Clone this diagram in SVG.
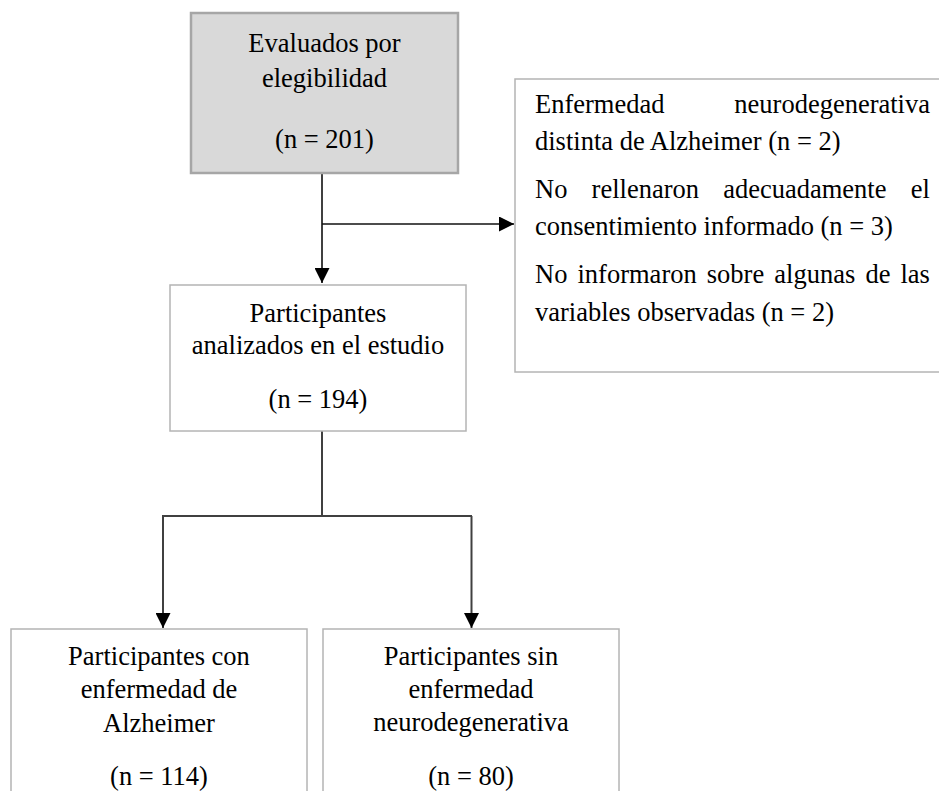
<svg xmlns="http://www.w3.org/2000/svg" width="939" height="791" viewBox="0 0 939 791">
<defs>
<style>
.box{fill:#ffffff;stroke:#b4b4b4;stroke-width:1.5}
.grey{fill:#d9d9d9;stroke:#a6a6a6;stroke-width:2.5}
.t{font-family:"Liberation Serif","Times New Roman",serif;font-size:26.5px;fill:#000}
.c{text-anchor:middle}
.e{text-anchor:end}
.ln{fill:none;stroke:#404040;stroke-width:2}
</style>
<marker id="ah" markerUnits="userSpaceOnUse" markerWidth="15" markerHeight="15" refX="15" refY="7.5" orient="auto" viewBox="0 0 15 15">
<path d="M0,0 L15,7.5 L0,15 z" fill="#000"/>
</marker>
</defs>
<rect width="939" height="791" fill="#fff"/>
<g id="connectors">
<path class="ln" d="M322,173 V283" marker-end="url(#ah)"/>
<path class="ln" d="M322,224 H514" stroke="#111" style="stroke:#111;stroke-width:1.6" marker-end="url(#ah)"/>
<path class="ln" d="M322,431 V516"/>
<path class="ln" d="M162,516 H472"/>
<path class="ln" d="M163,516 V628" marker-end="url(#ah)"/>
<path class="ln" d="M471.5,516 V628" marker-end="url(#ah)"/>
</g>
<g id="n-evaluados">
<rect class="grey" x="191" y="13" width="267" height="160"/>
<text class="t c" x="324.5" y="52">Evaluados por</text>
<text class="t c" x="324.5" y="87">elegibilidad</text>
<text class="t c" x="324.5" y="148">(n = 201)</text>
</g>
<g id="n-excluidos">
<rect class="box" x="515" y="79" width="440" height="293"/>
<text class="t" x="535" y="113">Enfermedad</text>
<text class="t e" x="930" y="113">neurodegenerativa</text>
<text class="t" x="535" y="150">distinta de Alzheimer (n = 2)</text>
<text class="t" y="198"><tspan x="535">No</tspan><tspan x="591.6">rellenaron</tspan><tspan x="723.2">adecuadamente</tspan><tspan x="910.7">el</tspan></text>
<text class="t" x="535" y="235">consentimiento informado (n = 3)</text>
<text class="t" y="283"><tspan x="535">No</tspan><tspan x="577.5">informaron</tspan><tspan x="706.8">sobre</tspan><tspan x="774.3">algunas</tspan><tspan x="865.4">de</tspan><tspan x="900.5">las</tspan></text>
<text class="t" x="535" y="321">variables observadas (n = 2)</text>
</g>
<g id="n-analizados">
<rect class="box" x="170" y="285" width="296" height="146"/>
<text class="t c" x="318" y="322">Participantes</text>
<text class="t c" x="318" y="354">analizados en el estudio</text>
<text class="t c" x="318" y="408">(n = 194)</text>
</g>
<g id="n-alzheimer">
<rect class="box" x="11" y="629" width="296" height="180"/>
<text class="t c" x="159" y="665">Participantes con</text>
<text class="t c" x="159" y="698">enfermedad de</text>
<text class="t c" x="159" y="732">Alzheimer</text>
<text class="t c" x="159" y="785">(n = 114)</text>
</g>
<g id="n-sin">
<rect class="box" x="323" y="629" width="296" height="180"/>
<text class="t c" x="471" y="665">Participantes sin</text>
<text class="t c" x="471" y="698">enfermedad</text>
<text class="t c" x="471" y="731">neurodegenerativa</text>
<text class="t c" x="471" y="785">(n = 80)</text>
</g>
</svg>
